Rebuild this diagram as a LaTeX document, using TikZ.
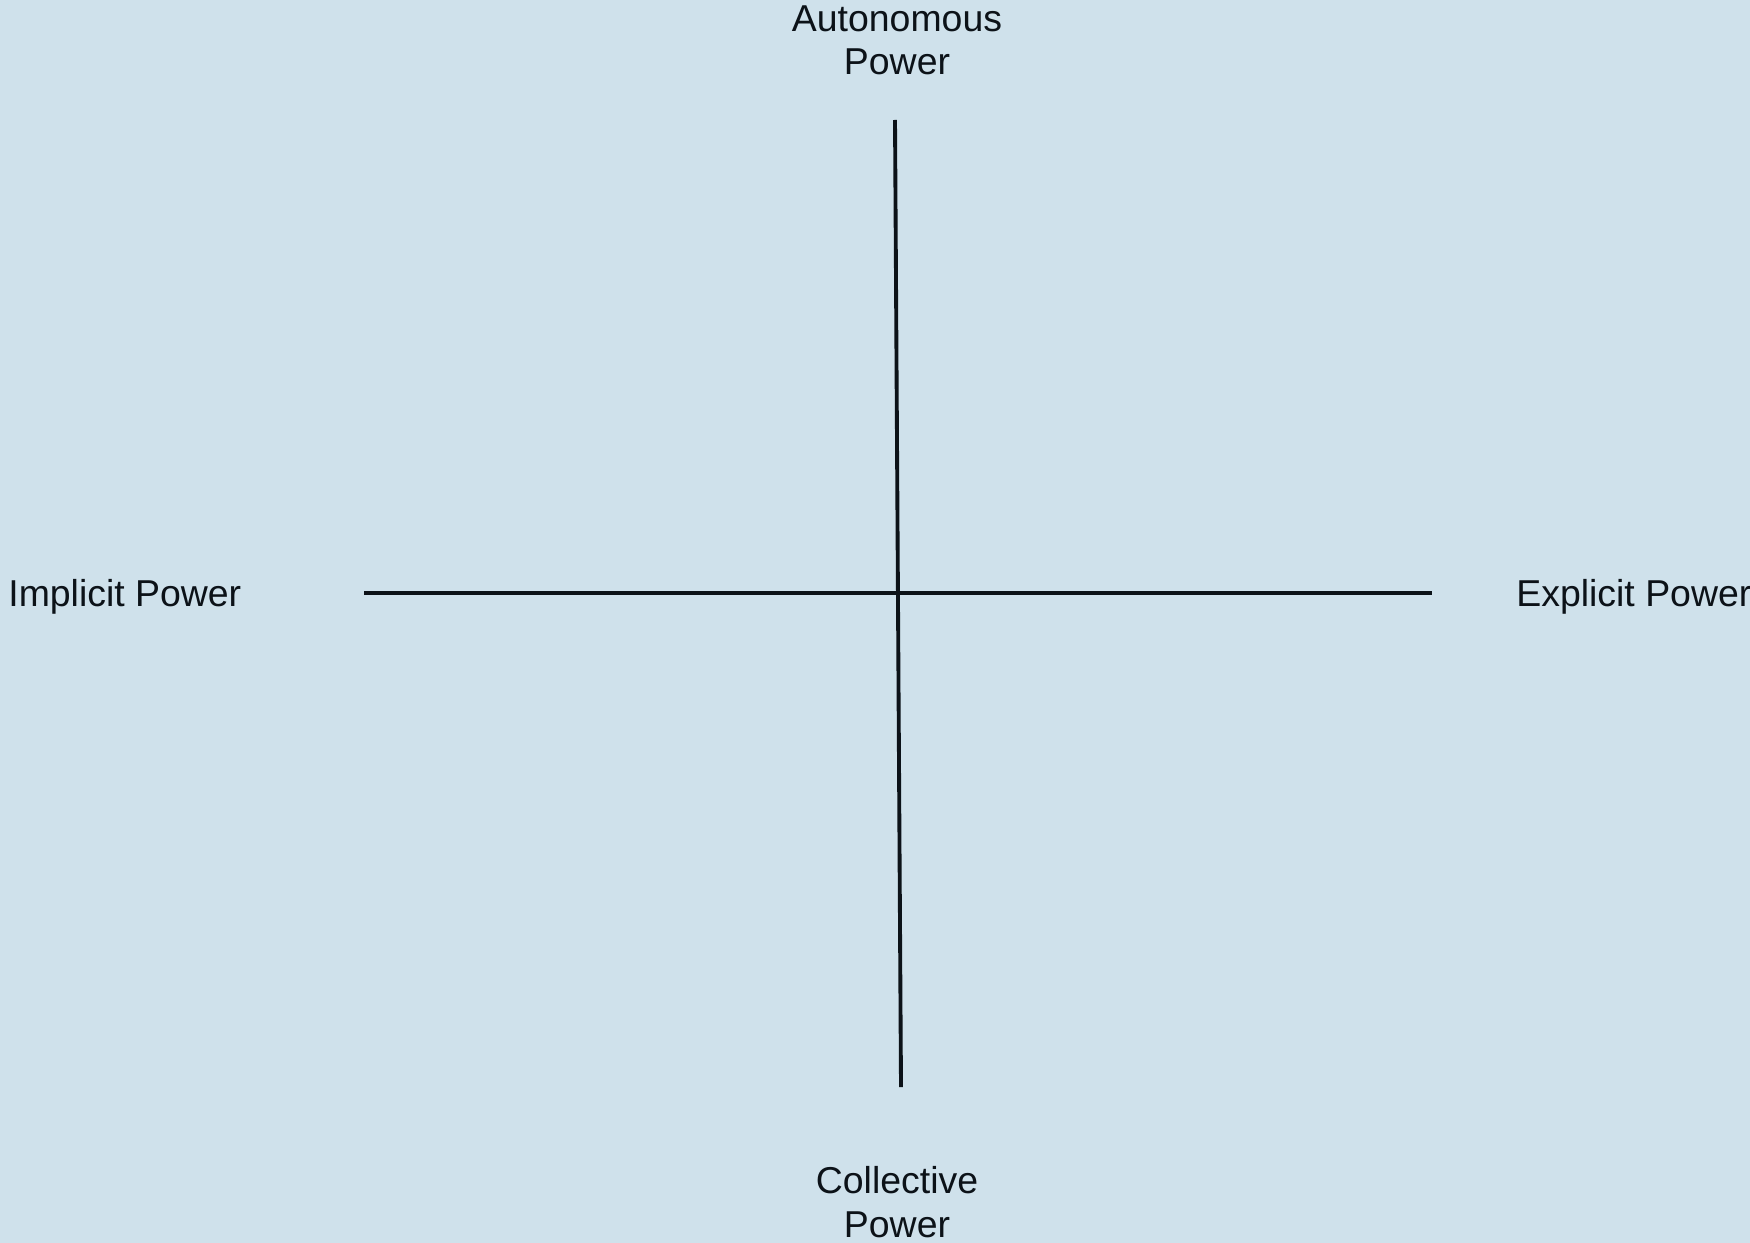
\documentclass[tikz,border=0pt]{standalone}
\usepackage{fontspec}
\setmainfont{Liberation Sans}
\usetikzlibrary{positioning}
\definecolor{bgblue}{RGB}{207,225,235}
\definecolor{inkdark}{RGB}{12,18,24}

\begin{document}
\begin{tikzpicture}[
    x=0.02cm, y=-0.02cm,
    lbl/.style={text=inkdark, align=center, inner sep=0pt, font=\fontsize{21.3}{24.7}\selectfont},
    axis/.style={draw=inkdark, line width=2.2pt}
]
\fill[bgblue] (0,0) rectangle (1750,1243);
\useasboundingbox (0,0) rectangle (1750,1243);
\coordinate (top) at (895,120);
\coordinate (bottom) at (901,1087);
\coordinate (left) at (364,593);
\coordinate (right) at (1432,593);
\node[lbl] (auto) at (897,40.5) {Autonomous\\Power};
\node[lbl] (coll) at (897,1202) {Collective\\Power};
\node[lbl, anchor=base west] (impl) at (8,606) {Implicit Power};
\node[lbl, anchor=base west] (expl) at (1516,606) {Explicit Power};
\draw[axis] (top) -- (bottom);
\draw[axis] (left) -- (right);
\end{tikzpicture}
\end{document}
